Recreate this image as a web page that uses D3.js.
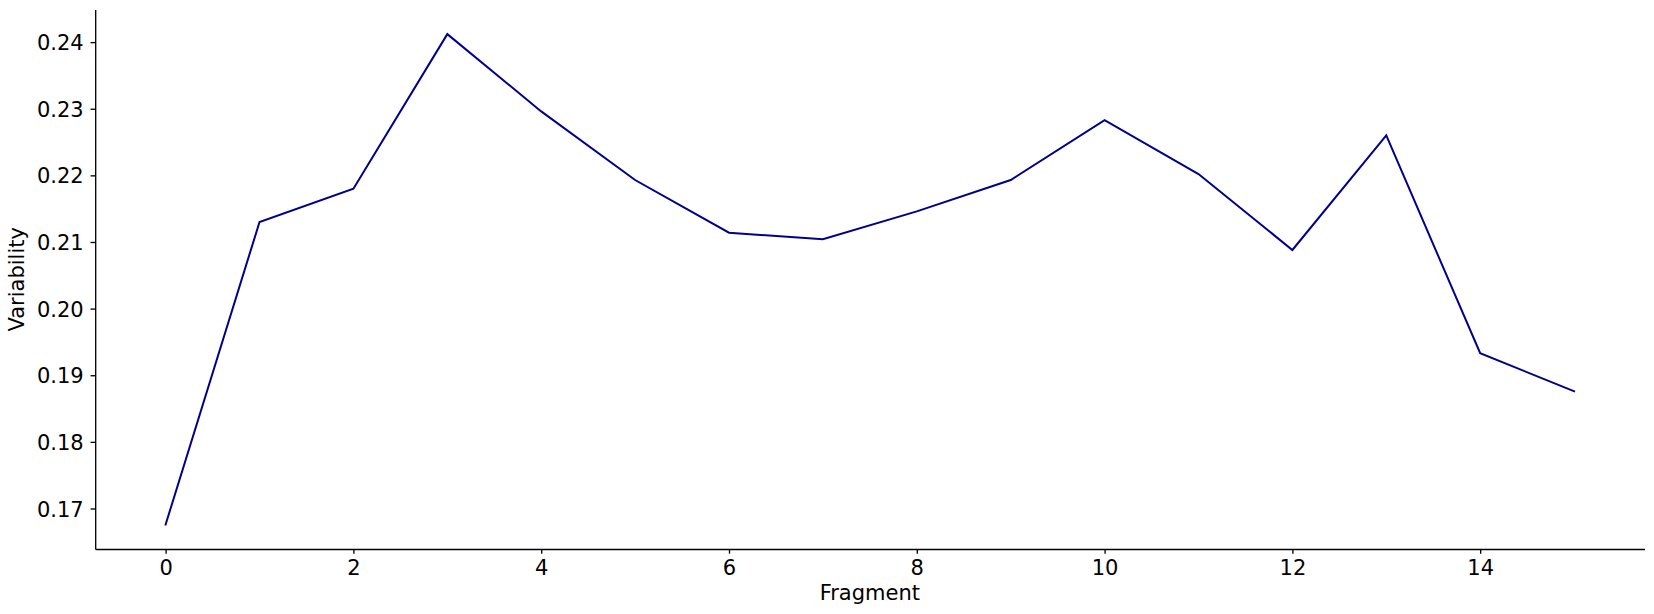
<!DOCTYPE html>
<html>
<head>
<meta charset="utf-8">
<script src="https://cdn.jsdelivr.net/npm/d3@7"></script>
<style>
  html, body { margin: 0; padding: 0; background: #fff; }
  svg { display: block; font-family: "DejaVu Sans", sans-serif; }
</style>
</head>
<body>
<svg id="chart" width="1654" height="614"></svg>
<script>
const fragments = [0, 1, 2, 3, 4, 5, 6, 7, 8, 9, 10, 11, 12, 13, 14, 15];
const variability = [0.1676, 0.2130, 0.2180, 0.2412, 0.2296, 0.2193, 0.2114, 0.2104,
                     0.2146, 0.2193, 0.2283, 0.2202, 0.2088, 0.2260, 0.1933, 0.1876];
const xTicks = [0, 2, 4, 6, 8, 10, 12, 14];
const yTicks = [0.17, 0.18, 0.19, 0.20, 0.21, 0.22, 0.23, 0.24];
const xLabel = "Fragment";
const yLabel = "Variability";

const W = 1654, H = 614;
const m = { left: 95.2, right: W - 1644.5, top: 9.6, bottom: H - 549 };
const svg = d3.select("#chart");

function padded(ext, f) {
  const r = ext[1] - ext[0];
  return [ext[0] - r * f, ext[1] + r * f];
}
const x = d3.scaleLinear().domain(padded(d3.extent(fragments), 0.05)).range([m.left, W - m.right]);
const y = d3.scaleLinear().domain(padded(d3.extent(variability), 0.05)).range([H - m.bottom, m.top]);

const fs = 21;
const tickLen = 4.67;

// X axis
const gx = svg.append("g").attr("transform", `translate(0,${H - m.bottom})`)
  .call(d3.axisBottom(x).tickValues(xTicks).tickFormat(d3.format("d")).tickSize(tickLen).tickSizeOuter(0));
gx.select(".domain").attr("stroke", "#000").attr("stroke-width", 1.33);
gx.selectAll(".tick line").attr("stroke", "#000").attr("stroke-width", 1.33);
gx.selectAll(".tick text").attr("font-size", fs).attr("fill", "#000")
  .attr("font-family", "DejaVu Sans").attr("y", 11.5).attr("dy", "0.71em");

// Y axis
const gy = svg.append("g").attr("transform", `translate(${m.left},0)`)
  .call(d3.axisLeft(y).tickValues(yTicks).tickFormat(d3.format(".2f")).tickSize(tickLen).tickSizeOuter(0));
gy.select(".domain").attr("stroke", "#000").attr("stroke-width", 1.33);
gy.selectAll(".tick line").attr("stroke", "#000").attr("stroke-width", 1.33);
gy.selectAll(".tick text").attr("font-size", fs).attr("fill", "#000")
  .attr("font-family", "DejaVu Sans").attr("x", -11.5).attr("dy", "0.36em");

// Line
const line = d3.line().x((d, i) => x(fragments[i])).y(d => y(d));
svg.append("path").datum(variability)
  .attr("fill", "none").attr("stroke", "#00008b").attr("stroke-width", 2)
  .attr("stroke-linejoin", "miter").attr("stroke-linecap", "square")
  .attr("d", line);

// Labels
svg.append("text").attr("x", (m.left + W - m.right) / 2).attr("y", 600)
  .attr("text-anchor", "middle").attr("font-size", fs).attr("fill", "#000").text(xLabel);
svg.append("text").attr("transform", `translate(24,${(m.top + H - m.bottom) / 2}) rotate(-90)`)
  .attr("text-anchor", "middle").attr("font-size", fs).attr("fill", "#000").text(yLabel);
</script>
</body>
</html>
